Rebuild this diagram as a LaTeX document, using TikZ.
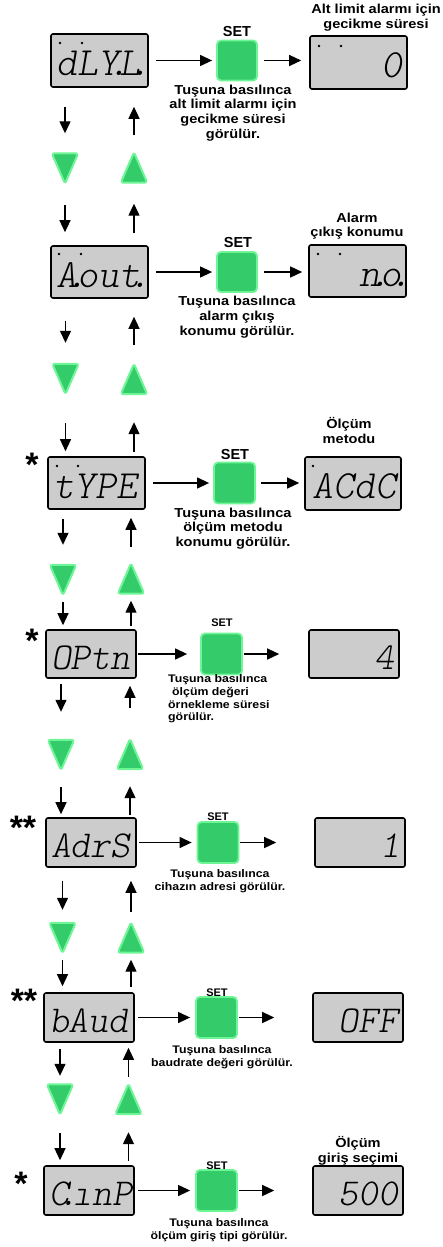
\documentclass[tikz,border=0pt]{standalone}
\usepackage{fontspec}
\usetikzlibrary{arrows.meta}
\newfontfamily\labfont{Liberation Sans}[FakeStretch=1.12]
\newfontfamily\setfont{Liberation Sans}
\newcommand\segf{\ttfamily\fontseries{l}\fontshape{sl}\selectfont}
\newcommand\segdot{\makebox[0pt][c]{.}}
\definecolor{btngreen}{RGB}{52,204,106}
\definecolor{btnedge}{RGB}{110,245,150}
\definecolor{lcd}{RGB}{204,204,204}
\tikzset{
  lcdbox/.style={draw=black, line width=1.6, fill=lcd, rounded corners=2,
    inner xsep=5, inner ysep=0, text height=30, text depth=0},
  lcdA/.style={lcdbox, font={\fontsize{40}{40}\segf}},
  lcdB/.style={lcdbox, font={\fontsize{38}{38}\segf}},
  btn/.style={draw=btnedge, line width=1.8, fill=btngreen, rounded corners=4, minimum size=40, inner sep=0},
  trishape/.style={draw=btnedge, line width=2, fill=btngreen, rounded corners=2.5, line join=round},
  trinode/.style={inner sep=0, minimum width=26, minimum height=30},
  arr/.style={line width=1.3, -{Triangle[length=12pt,width=11pt]}},
  bigtxt/.style={font={\labfont\bfseries\fontsize{13}{14.7}\selectfont}, align=center, inner sep=0},
  smalltxt/.style={font={\labfont\bfseries\fontsize{11}{12.7}\selectfont}, align=center, inner sep=0},
  setbig/.style={font={\setfont\bfseries\fontsize{14.5}{15}\selectfont}, inner sep=0},
  setsmall/.style={font={\setfont\bfseries\fontsize{11}{12}\selectfont}, inner sep=0},
  star/.style={font={\setfont\bfseries\fontsize{34}{34}\selectfont}, inner sep=0},
}
\newcommand\tridown[1]{\draw[trishape] (#1.north west) -- (#1.north east) -- (#1.south) -- cycle;}
\newcommand\triup[1]{\draw[trishape] (#1.south west) -- (#1.south east) -- (#1.north) -- cycle;}
\newcommand\ind[2]{\fill (#1,#2) circle (1.3);}
\begin{document}
\begin{tikzpicture}[x=1pt,y=-1pt]
\useasboundingbox (0,0) rectangle (443,1247);

% ---------------- row 1
\node[lcdA, text width=87, minimum height=53, align=left] (d1) at (99.5,60.5) {dLY\segdot L\segdot};
\node[btn] (b1) at (237,60.5) {};
\node[lcdA, text width=87, minimum height=53, align=right] (r1) at (358.5,62.5) {0};
\ind{60}{43}\ind{82}{43}\ind{319}{46}\ind{341}{46}
\node[setbig] (s1) at (237,32) {SET};
\node[bigtxt] (l1) at (376,17.5) {Alt limit alarmı için\\gecikme süresi};
\node[bigtxt] (u1) at (233,113) {Tuşuna basılınca\\alt limit alarmı için\\gecikme süresi\\görülür.};
\draw[arr, shorten <=7, shorten >=4] (d1.east) -- (d1.east -| b1.west);
\draw[arr, shorten <=6, shorten >=8] (b1.east |- d1.east) -- (r1.west |- d1.east);

\node[trinode] (tdn1) at (65,168.5) {}; \tridown{tdn1}
\node[trinode] (tup1) at (134,167.5) {}; \triup{tup1}
\draw[arr, shorten <=19, shorten >=20] (d1.south -| tdn1) -- (tdn1.north);
\draw[arr, shorten <=17, shorten >=19] (tup1.north) -- (d1.south -| tup1);

% ---------------- row 2
\node[lcdA, text width=87, minimum height=52, align=left] (d2) at (99.5,272) {A\segdot out\segdot};
\node[btn] (b2) at (237,272) {};
\node[lcdA, text width=87, minimum height=52, align=right] (r2) at (357.5,271) {n\segdot o\segdot};
\ind{59}{254}\ind{81}{254}\ind{318}{254}\ind{340}{254}
\node[setbig] (s2) at (238,243) {SET};
\node[bigtxt] (l2) at (357,226) {Alarm\\çıkış konumu};
\node[bigtxt] (u2) at (237,317) {Tuşuna basılınca\\alarm çıkış\\konumu görülür.};
\draw[arr, shorten <=7, shorten >=4] (d2.east) -- (d2.east -| b2.west);
\draw[arr, shorten <=6, shorten >=6] (b2.east |- d2.east) -- (r2.west |- d2.east);
\draw[arr, shorten <=21, shorten >=13] (tdn1.south) -- (d2.north -| tdn1);
\draw[arr, shorten <=12, shorten >=21] (d2.north -| tup1) -- (tup1.south);

\node[trinode] (tdn2) at (65.5,379) {}; \tridown{tdn2}
\node[trinode] (tup2) at (134,379) {}; \triup{tup2}
\draw[arr, shorten <=22, shorten >=21] (d2.south -| tdn2) -- (tdn2.north);
\draw[arr, shorten <=19, shorten >=18] (tup2.north) -- (d2.south -| tup2);

% ---------------- row 3
\node[star] (st3) at (32,465) {*};
\node[lcdA, text width=87, minimum height=52, align=left] (d3) at (96.5,483) {tYPE};
\node[btn, minimum size=41] (b3) at (234.5,483) {};
\node[lcdA, text width=86, minimum height=53, align=right] (r3) at (353,483.5) {ACdC};
\ind{57}{466}\ind{78}{466}\ind{313}{466}
\node[setbig] (s3) at (235,455) {SET};
\node[bigtxt] (l3) at (349,430.5) {Ölçüm\\metodu};
\node[bigtxt] (u3) at (233,528.5) {Tuşuna basılınca\\ölçüm metodu\\konumu görülür.};
\draw[arr, shorten <=7, shorten >=4] (d3.east) -- (d3.east -| b3.west);
\draw[arr, shorten <=5, shorten >=5] (b3.east |- d3.east) -- (r3.west |- d3.east);
\draw[arr, shorten <=29, shorten >=5] (tdn2.south) -- (d3.north -| tdn2);
\draw[arr, shorten <=4, shorten >=28] (d3.north -| tup2) -- (tup2.south);

\node[trinode] (tdn3) at (63,580) {}; \tridown{tdn3}
\node[trinode] (tup3) at (131,578.5) {}; \triup{tup3}
\draw[arr, shorten <=9, shorten >=20] (d3.south -| tdn3) -- (tdn3.north);
\draw[arr, shorten <=16, shorten >=8] (tup3.north) -- (d3.south -| tup3);

% ---------------- row 4
\node[star] (st4) at (32,641) {*};
\node[lcdB, text width=80, minimum height=48, align=left] (d4) at (91,654) {OPtn};
\node[btn, minimum size=41] (b4) at (221.5,654) {};
\node[lcdB, text width=80, minimum height=48, align=right] (r4) at (354,654) {4\hspace*{6pt}};
\node[setsmall] (s4) at (222,623) {SET};
\node[smalltxt, align=left, anchor=west] (u4) at (168,699) {Tuşuna basılınca\\\hspace*{4pt}ölçüm değeri\\örnekleme süresi\\görülür.};
\draw[arr, shorten <=1, shorten >=13] (d4.east) -- (d4.east -| b4.west);
\draw[arr, shorten <=1, shorten >=29] (b4.east |- d4.east) -- (r4.west |- d4.east);
\draw[arr, shorten <=7, shorten >=4] (tdn3.south) -- (d4.north -| tdn3);
\draw[arr, shorten <=3, shorten >=7] (d4.north -| tup3) -- (tup3.south);

\node[trinode] (tdn4) at (61,755) {}; \tridown{tdn4}
\node[trinode] (tup4) at (130,754) {}; \triup{tup4}
\draw[arr, shorten <=5, shorten >=28] (d4.south -| tdn4) -- (tdn4.north);
\draw[arr, shorten <=31, shorten >=7] (tup4.north) -- (d4.south -| tup4);

% ---------------- row 5
\node[star] (st5) at (23,828) {**};
\node[lcdB, text width=80, minimum height=49, align=left] (d5) at (91,842.5) {AdrS};
\node[btn, minimum size=41] (b5) at (218,842.5) {};
\node[lcdB, text width=80, minimum height=49, align=right] (r5) at (360,842.5) {1};
\node[setsmall] (s5) at (218,817) {SET};
\node[smalltxt] (u5) at (220,881) {Tuşuna basılınca\\cihazın adresi görülür.};
\draw[arr, shorten <=2, shorten >=5] (d5.east) -- (d5.east -| b5.west);
\draw[arr, shorten <=1, shorten >=38] (b5.east |- d5.east) -- (r5.west |- d5.east);
\draw[arr, shorten <=17, shorten >=3] (tdn4.south) -- (d5.north -| tdn4);
\draw[arr, shorten <=2, shorten >=17] (d5.north -| tup4) -- (tup4.south);

\node[trinode] (tdn5) at (62.5,938) {}; \tridown{tdn5}
\node[trinode] (tup5) at (131,937.5) {}; \triup{tup5}
\draw[arr, shorten <=13, shorten >=13] (d5.south -| tdn5) -- (tdn5.north);
\draw[arr, shorten <=10, shorten >=13] (tup5.north) -- (d5.south -| tup5);

% ---------------- row 6
\node[star] (st6) at (24,1001) {**};
\node[lcdB, text width=80, minimum height=49, align=left] (d6) at (89,1017.5) {bAud};
\node[btn, minimum size=41] (b6) at (216.5,1017.5) {};
\node[lcdB, text width=80, minimum height=49, align=right] (r6) at (358,1017.5) {OFF};
\node[setsmall] (s6) at (217,993) {SET};
\node[smalltxt] (u6) at (222,1057) {Tuşuna basılınca\\baudrate değeri görülür.};
\draw[arr, shorten <=3, shorten >=5] (d6.east) -- (d6.east -| b6.west);
\draw[arr, shorten <=1, shorten >=38] (b6.east |- d6.east) -- (r6.west |- d6.east);
\draw[arr, shorten <=7, shorten >=6] (tdn5.south) -- (d6.north -| tdn5);
\draw[arr, shorten <=5, shorten >=7] (d6.north -| tup5) -- (tup5.south);

\node[trinode] (tdn6) at (60,1099.5) {}; \tridown{tdn6}
\node[trinode] (tup6) at (128.5,1099) {}; \triup{tup6}
\draw[arr, shorten <=6, shorten >=8.5] (d6.south -| tdn6) -- (tdn6.north);
\draw[arr, shorten <=7, shorten >=5] (tup6.north) -- (d6.south -| tup6);

% ---------------- row 7
\node[star] (st7) at (21,1184) {*};
\node[lcdB, text width=80, minimum height=49, align=left] (d7) at (89,1190.5) {C\segdot\kern0.1em ınP};
\node[btn, minimum size=41] (b7) at (216.5,1190.5) {};
\node[lcdB, text width=80, minimum height=49, align=right] (r7) at (358,1190.5) {500};
\node[setsmall] (s7) at (217,1166) {SET};
\node[bigtxt] (l7) at (358,1151) {Ölçüm\\giriş seçimi};
\node[smalltxt] (u7) at (219,1230) {Tuşuna basılınca\\ölçüm giriş tipi görülür.};
\draw[arr, shorten <=3, shorten >=5] (d7.east) -- (d7.east -| b7.west);
\draw[arr, shorten <=1, shorten >=38] (b7.east |- d7.east) -- (r7.west |- d7.east);
\draw[arr, shorten <=18.5, shorten >=5] (tdn6.south) -- (d7.north -| tdn6);
\draw[arr, shorten <=4, shorten >=18] (d7.north -| tup6) -- (tup6.south);
\end{tikzpicture}
\end{document}
